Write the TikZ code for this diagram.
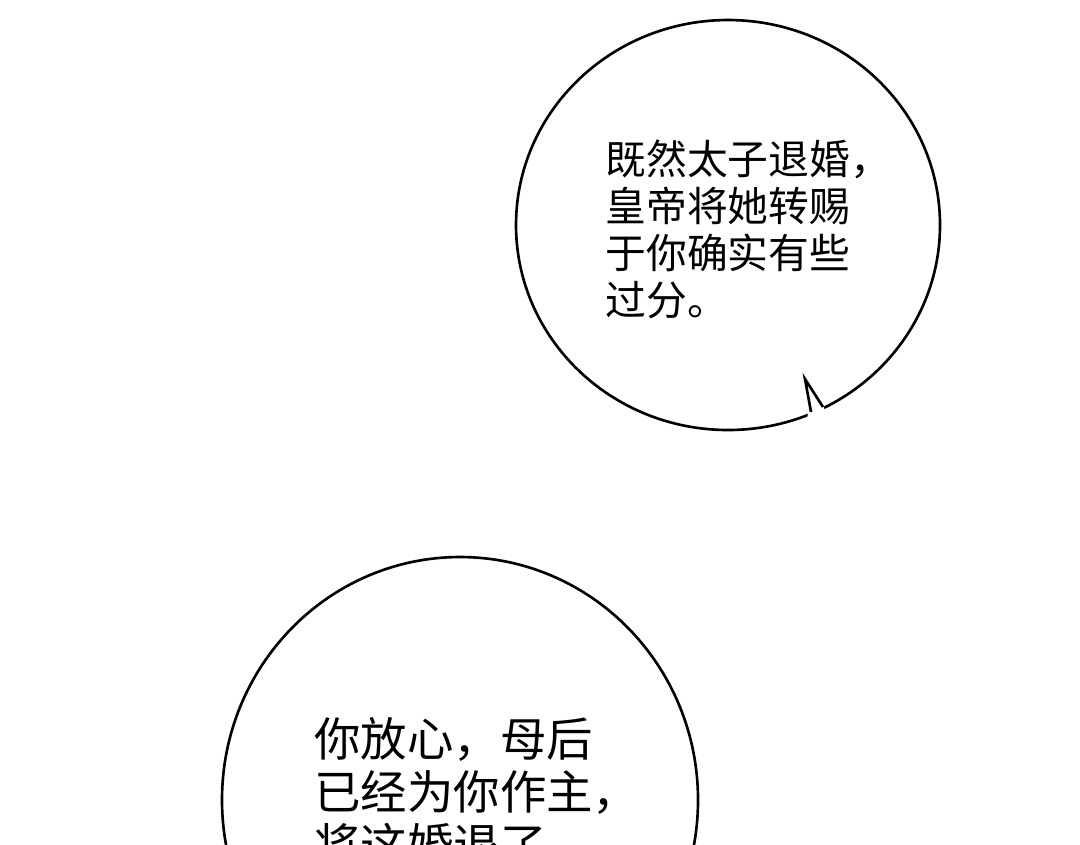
\documentclass[tikz,border=0pt]{standalone}
\usepackage{fontspec}
\newfontfamily\cjk{Noto Sans CJK SC}
\begin{document}
\begin{tikzpicture}[x=0.01cm,y=-0.01cm]
        \tikzset{bubble/.style={draw, line width=0.75pt, fill=white},
                 speech/.style={anchor=north west, align=left, font=\cjk}}
        \useasboundingbox (0,0) rectangle (1080,844);
        \clip (0,0) rectangle (1080,844);

        % upper bubble
        \draw[bubble] (728,225) ellipse [x radius=212, y radius=205];
        \fill[white] (809,405) -- (807,420) -- (826,414) -- (823,405) -- cycle;
        \coordinate (tailA) at (811,412);
        \coordinate (tailTip) at (805,379);
        \coordinate (tailB) at (823,407);
        \draw[line width=0.75pt, line join=miter] (tailA) -- (tailTip) -- (tailB);
        \node[speech, font=\cjk\fontsize{11.6}{13.4}\selectfont] (upperText) at (593,127)
            {既然太子退婚，\\皇帝将她转赐\\于你确实有些\\过分。};

        % lower bubble
        \draw[bubble] (460,800) ellipse [x radius=238, y radius=243];
        \node[speech, font=\cjk\fontsize{13.2}{15.1}\selectfont] (lowerText) at (302,705)
            {你放心，母后\\已经为你作主，\\将这婚退了，};
    \end{tikzpicture}
\end{document}
